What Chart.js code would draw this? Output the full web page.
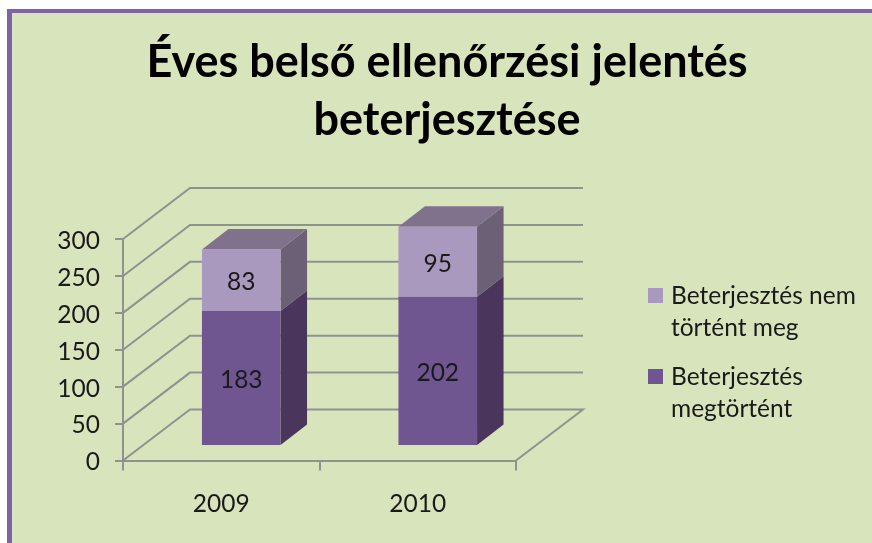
<!DOCTYPE html>
<html lang="hu">
<head>
<meta charset="utf-8">
<title>Éves belső ellenőrzési jelentés beterjesztése</title>
<script src="https://cdn.jsdelivr.net/npm/chart.js@4"></script>
<style>
html,body{margin:0;padding:0;background:#fff;overflow:hidden}
canvas{display:block;filter:blur(0.55px)}
</style>
</head>
<body>
<canvas id="c" width="872" height="543"></canvas>
<script>
const titleLines = ["Éves belső ellenőrzési jelentés", "beterjesztése"];
const categories = ["2009", "2010"];
const seriesDone = [183, 202];
const seriesNotDone = [83, 95];
const doneLabel = "Beterjesztés megtörtént";
const notDoneLabel = "Beterjesztés nem történt meg";
const doneLegendLines = ["Beterjesztés", "megtörtént"];
const notDoneLegendLines = ["Beterjesztés nem", "történt meg"];
const yMin = 0, yMax = 300, yStep = 50;

const BG = "#d8e4bc", FRAME = "#8064a2", AXIS = "#909290", INK = "#1a1a1a";
const FONT = "Lato, Carlito, sans-serif";
const WALL = {dx: 67, dy: -51};
const BAR_SHIFT = {dx: 20, dy: -14.5};
const BAR_DEPTH = {dx: 26.5, dy: -20.5};
const faces = [
  {front: "#705690", side: "#4a365c", top: "#705690"},
  {front: "#a999be", side: "#6b6076", top: "#80728c"}
];

const scene = {
  id: "scene",
  beforeDraw(chart) {
    const c = chart.ctx;
    c.save();
    c.fillStyle = "#fff"; c.fillRect(0, 0, 872, 543);
    c.fillStyle = FRAME; c.fillRect(7, 9, 865, 534);
    c.fillStyle = BG; c.fillRect(12, 13, 860, 530);
    c.restore();
  },
  beforeDatasetsDraw(chart) {
    const c = chart.ctx, a = chart.chartArea, y = chart.scales.y;
    c.save();
    c.strokeStyle = AXIS; c.lineWidth = 2; c.lineJoin = "miter";
    for (let v = yMin; v <= yMax; v += yStep) {
      const p = y.getPixelForValue(v);
      c.beginPath();
      c.moveTo(a.left, p);
      c.lineTo(a.left + WALL.dx, p + WALL.dy);
      c.lineTo(a.right + WALL.dx, p + WALL.dy);
      if (v === yMin) c.lineTo(a.right, p);
      c.stroke();
    }
    // side and top faces of the columns, from the library's bar elements
    chart.data.datasets.forEach((ds, i) => {
      chart.getDatasetMeta(i).data.forEach(bar => {
        const r = bar.x + bar.width / 2 + BAR_SHIFT.dx, l = r - bar.width;
        const t = bar.y + BAR_SHIFT.dy, b = bar.base + BAR_SHIFT.dy;
        c.fillStyle = faces[i].side;
        c.beginPath();
        c.moveTo(r, t); c.lineTo(r + BAR_DEPTH.dx, t + BAR_DEPTH.dy);
        c.lineTo(r + BAR_DEPTH.dx, b + BAR_DEPTH.dy); c.lineTo(r, b);
        c.closePath(); c.fill();
        if (i === chart.data.datasets.length - 1) {
          c.fillStyle = faces[i].top;
          c.beginPath();
          c.moveTo(l, t); c.lineTo(l + BAR_DEPTH.dx, t + BAR_DEPTH.dy);
          c.lineTo(r + BAR_DEPTH.dx, t + BAR_DEPTH.dy); c.lineTo(r, t);
          c.closePath(); c.fill();
        }
      });
    });
    c.restore();
    c.save();
    c.translate(BAR_SHIFT.dx, BAR_SHIFT.dy);
  },
  afterDatasetsDraw(chart) {
    const c = chart.ctx;
    c.restore();
    c.save();
    c.fillStyle = INK; c.font = "24.5px " + FONT;
    c.textAlign = "center"; c.textBaseline = "middle";
    chart.data.datasets.forEach((ds, i) => {
      chart.getDatasetMeta(i).data.forEach((bar, j) => {
        c.fillText(String(ds.data[j]), bar.x + BAR_SHIFT.dx, (bar.y + bar.base) / 2 + BAR_SHIFT.dy + 2);
      });
    });
    // legend
    const items = [
      {color: faces[1].front, lines: notDoneLegendLines, y: 288},
      {color: faces[0].front, lines: doneLegendLines, y: 369}
    ];
    c.textAlign = "left";
    items.forEach(it => {
      c.fillStyle = it.color; c.fillRect(648, it.y, 15, 15);
      c.fillStyle = INK;
      it.lines.forEach((t, k) => c.fillText(t, 671, it.y + 8.5 + k * 31.5));
    });
    c.restore();
  }
};

new Chart(document.getElementById("c"), {
  type: "bar",
  data: {
    labels: categories,
    datasets: [
      {label: doneLabel, data: seriesDone, backgroundColor: faces[0].front, stack: "s"},
      {label: notDoneLabel, data: seriesNotDone, backgroundColor: faces[1].front, stack: "s"}
    ]
  },
  options: {
    responsive: false,
    animation: false,
    layout: {padding: {left: 22, right: 0, top: 0, bottom: 0}},
    datasets: {bar: {categoryPercentage: 1, barPercentage: 0.4}},
    plugins: {
      legend: {display: false},
      tooltip: {enabled: false},
      title: {
        display: true,
        text: titleLines,
        color: "#000",
        font: {family: FONT, size: 45, weight: "bold", lineHeight: 1.289},
        padding: {top: 33, bottom: 90}
      }
    },
    scales: {
      x: {
        stacked: true,
        afterFit(s) { s.height = 82.5; },
        border: {color: AXIS, width: 2},
        grid: {drawOnChartArea: false, drawTicks: true, tickLength: 10, color: AXIS, lineWidth: 2},
        ticks: {color: INK, font: {family: FONT, size: 24.5}, padding: 19}
      },
      y: {
        stacked: true,
        min: yMin, max: yMax,
        afterFit(s) { s.width = 101; },
        border: {color: AXIS, width: 2},
        grid: {drawOnChartArea: false, drawTicks: true, tickLength: 8, color: AXIS, lineWidth: 2},
        ticks: {stepSize: yStep, color: INK, font: {family: FONT, size: 24.5}, padding: 15, labelOffset: 2}
      },
      spacer: {
        position: "right",
        afterFit(s) { s.width = 356; },
        border: {display: false},
        grid: {display: false},
        ticks: {display: false}
      }
    }
  },
  plugins: [scene]
});
</script>
</body>
</html>
